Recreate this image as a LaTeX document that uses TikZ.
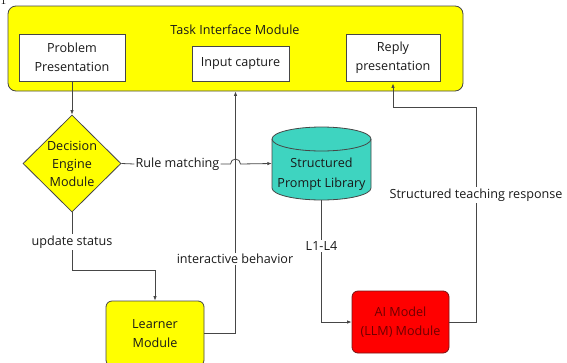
\documentclass[tikz,border=0pt]{standalone}
\usepackage{fontspec}
\setsansfont{Open Sans}
\usetikzlibrary{shapes.geometric,arrows.meta,calc}
\definecolor{hiyellow}{RGB}{255,255,0}
\definecolor{libteal}{RGB}{62,212,192}
\definecolor{edgegray}{RGB}{70,70,70}
\definecolor{aired}{RGB}{255,0,0}
\definecolor{aiborder}{RGB}{120,20,20}
\definecolor{aitext}{RGB}{110,0,0}

\begin{document}
\begin{tikzpicture}[x=1pt,y=-1pt,
  every node/.style={font=\sffamily\fontsize{12.6}{19.5}\selectfont, text=black!90, align=center},
  whitebox/.style={draw=edgegray, fill=white, line width=0.8pt, inner sep=0pt},
  yellowbox/.style={draw=edgegray, fill=hiyellow, line width=0.8pt, inner sep=0pt},
  conn/.style={draw=edgegray, line width=0.8pt},
  arr/.style={conn, -{Latex[length=4.5pt,width=3.5pt]}},
  lbl/.style={fill=white, inner sep=1.5pt},
]
\useasboundingbox (0,0) rectangle (567,362);

% stray caption glyph cut by the page edge
\node[font=\rmfamily\fontsize{12}{12}\selectfont, anchor=base, inner sep=0pt, text=black] (cut) at (3.5,4) {1};

% Task interface module with its three parts
\node[yellowbox, rounded corners=8pt, minimum width=455pt, minimum height=85pt] (task) at (235.5,48.5) {};
\node (tasktitle) at (235,30) {Task Interface Module};
\node[whitebox, minimum width=106pt, minimum height=47pt] (prob) at (72,57.5) {Problem\\Presentation};
\node[whitebox, minimum width=97pt, minimum height=35pt] (input) at (240.5,63.5) {Input capture};
\node[whitebox, minimum width=94pt, minimum height=47pt] (reply) at (393,57.5) {Reply\\presentation};

% decision engine
\node[diamond, yellowbox, minimum width=98pt, minimum height=97pt,
      font=\sffamily\fontsize{12.6}{18}\selectfont] (dec) at (72,163.5) {Decision\\Engine\\Module};

% structured prompt library (cylinder)
\node[minimum width=99pt, minimum height=73pt, inner sep=0pt] (lib) at (321.5,163.5) {};
\draw[draw=edgegray, fill=libteal, line width=0.8pt]
  (272,139) -- (272,188)
  arc[start angle=180, end angle=360, x radius=49.5pt, y radius=12pt]
  -- (371,139)
  arc[start angle=0, end angle=180, x radius=49.5pt, y radius=12pt] -- cycle;
\draw[draw=edgegray, line width=0.8pt]
  (272,139) arc[start angle=180, end angle=360, x radius=49.5pt, y radius=12pt];
\node (libtext) at (321.5,174) {Structured\\Prompt Library};

% learner and AI model
\node[yellowbox, rounded corners=6pt, minimum width=98pt, minimum height=65pt] (learner) at (155,333.5) {Learner\\Module};
\node[draw=aiborder, fill=aired, line width=0.8pt, rounded corners=6pt, inner sep=0pt,
      minimum width=97pt, minimum height=62pt, text=aitext] (ai) at (400.5,322) {AI Model\\(LLM) Module};

% connectors
\draw[arr] (prob.south) -- (dec.north);

\node[inner sep=1pt] (rule) at (177.5,164) {Rule matching};
\coordinate (hop) at (task.south |- rule.east);
\draw[conn] (dec.east) -- (rule.west);
\draw[arr] (rule.east) -- ([xshift=-5pt]hop)
  arc[start angle=180, end angle=0, radius=5pt] -- (lib.west);

\draw[arr] (learner.east) -| (task.south);
\node[lbl] (inter) at (235,259) {interactive behavior};

\draw[arr] (dec.south) |- ([yshift=30pt]learner.north) -- (learner.north);
\node[lbl] (upd) at (72,242) {update status};

\draw[arr] (lib.south) |- (ai.west);
\node[lbl] (levels) at (321.5,246) {L1-L4};

\coordinate (turn) at (476,107);
\draw[arr, shorten >=2pt] (ai.east) -| (turn) -| (reply.south);
\node[lbl] (resp) at (476,195) {Structured teaching response};
\end{tikzpicture}
\end{document}
